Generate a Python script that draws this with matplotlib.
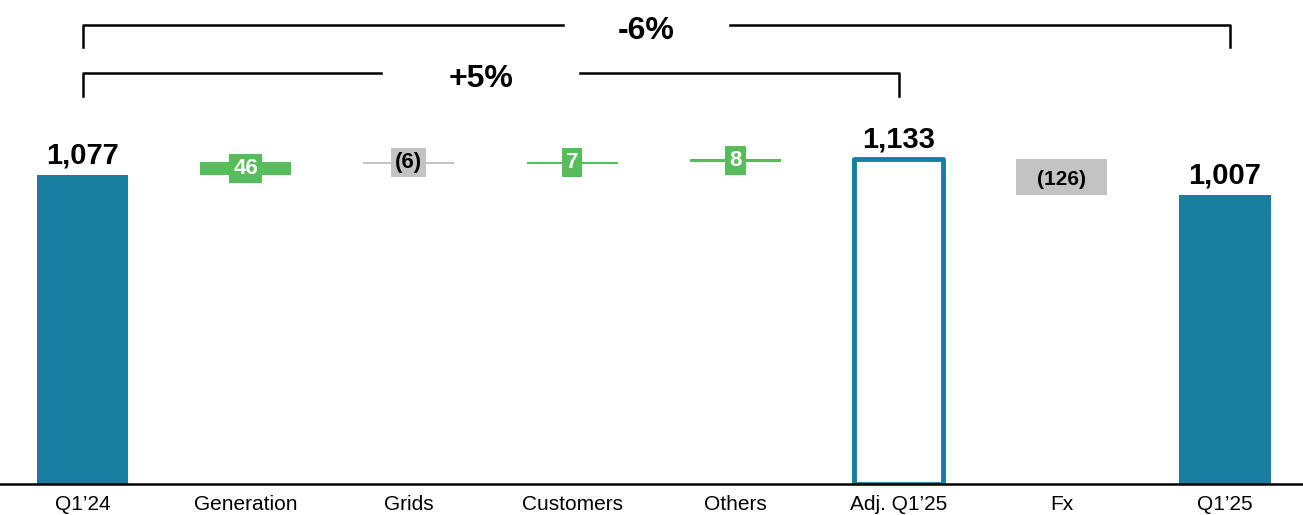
import matplotlib
matplotlib.use("Agg")
import matplotlib.pyplot as plt
import numpy as np

plt.rcParams["font.family"] = ["Liberation Sans", "DejaVu Sans"]

TEAL, GREEN, GRAY = "#177EA0", "#57BD5B", "#C3C3C3"

# data
categories = ["Q1’24", "Generation", "Grids", "Customers", "Others", "Adj. Q1’25", "Fx", "Q1’25"]
values = [1077, 46, -6, 7, 8, 1133, -126, 1007]
kinds = ["total", "delta", "delta", "delta", "delta", "adj", "delta", "total"]
labels = ["1,077", "46", "(6)", "7", "8", "1,133", "(126)", "1,007"]
brackets = [(0, 5, "+5%"), (0, 7, "-6%")]

fig = plt.figure(figsize=(13.03, 5.15), dpi=100)
ax = fig.add_axes([0, 31 / 515, 1, 1 - 31 / 515])
x = np.arange(len(categories))
w = 0.558

running = 0
for i, (v, k, lab) in enumerate(zip(values, kinds, labels)):
    if k in ("total", "adj"):
        if k == "total":
            ax.bar(i, v, w, color=TEAL, zorder=2)
        else:
            ax.bar(i, v, w - 0.015, facecolor="white", edgecolor=TEAL, linewidth=3.5,
                   joinstyle="round", zorder=2)
        ax.annotate(lab, (i, v), xytext=(0, 8.5), textcoords="offset points",
                    ha="center", va="baseline", fontsize=21, fontweight="bold")
        running = v
    else:
        bottom = running if v > 0 else running + v
        col = GREEN if v > 0 else GRAY
        ax.bar(i, abs(v), w, bottom=bottom, color=col, zorder=2)
        mid = bottom + abs(v) / 2
        if abs(v) > 50:
            # label sits inside a tall bar
            ax.text(i, mid, lab, ha="center", va="center_baseline", fontsize=15,
                    fontweight="bold", color="black", zorder=3)
        else:
            ax.text(i, mid, lab, ha="center", va="center", fontsize=16, fontweight="bold",
                    color="white" if v > 0 else "black", zorder=3,
                    bbox=dict(boxstyle="square,pad=0.18", fc=col, ec="none"))
        running += v

# growth brackets
levels = [(1433, 1352, 0.61), (1600, 1523, 0.51)]
for (a, b, txt), (ytop, ybot, gap) in zip(brackets, levels):
    xb = b + (0.03 if b == 7 else 0.0)
    xm = (a + xb) / 2 - 0.06
    ax.plot([a, a, xm - gap], [ybot, ytop, ytop], color="black", lw=1.8,
            solid_joinstyle="round", clip_on=False)
    ax.plot([xm + gap, xb, xb], [ytop, ytop, ybot], color="black", lw=1.8,
            solid_joinstyle="round", clip_on=False)
    ax.text(xm, ytop - 8, txt, ha="center", va="center_baseline", fontsize=23,
            fontweight="bold")

ax.set_xlim(-0.5055, 7.478)
ax.set_ylim(0, 1687)
ax.set_xticks(x, categories, fontsize=15)
ax.tick_params(axis="x", length=0, pad=8)
ax.set_yticks([])
for s in ("top", "right", "left"):
    ax.spines[s].set_visible(False)
ax.spines["bottom"].set_linewidth(1.8)
ax.spines["bottom"].set_zorder(4)

fig.savefig("out.png", dpi=100)
